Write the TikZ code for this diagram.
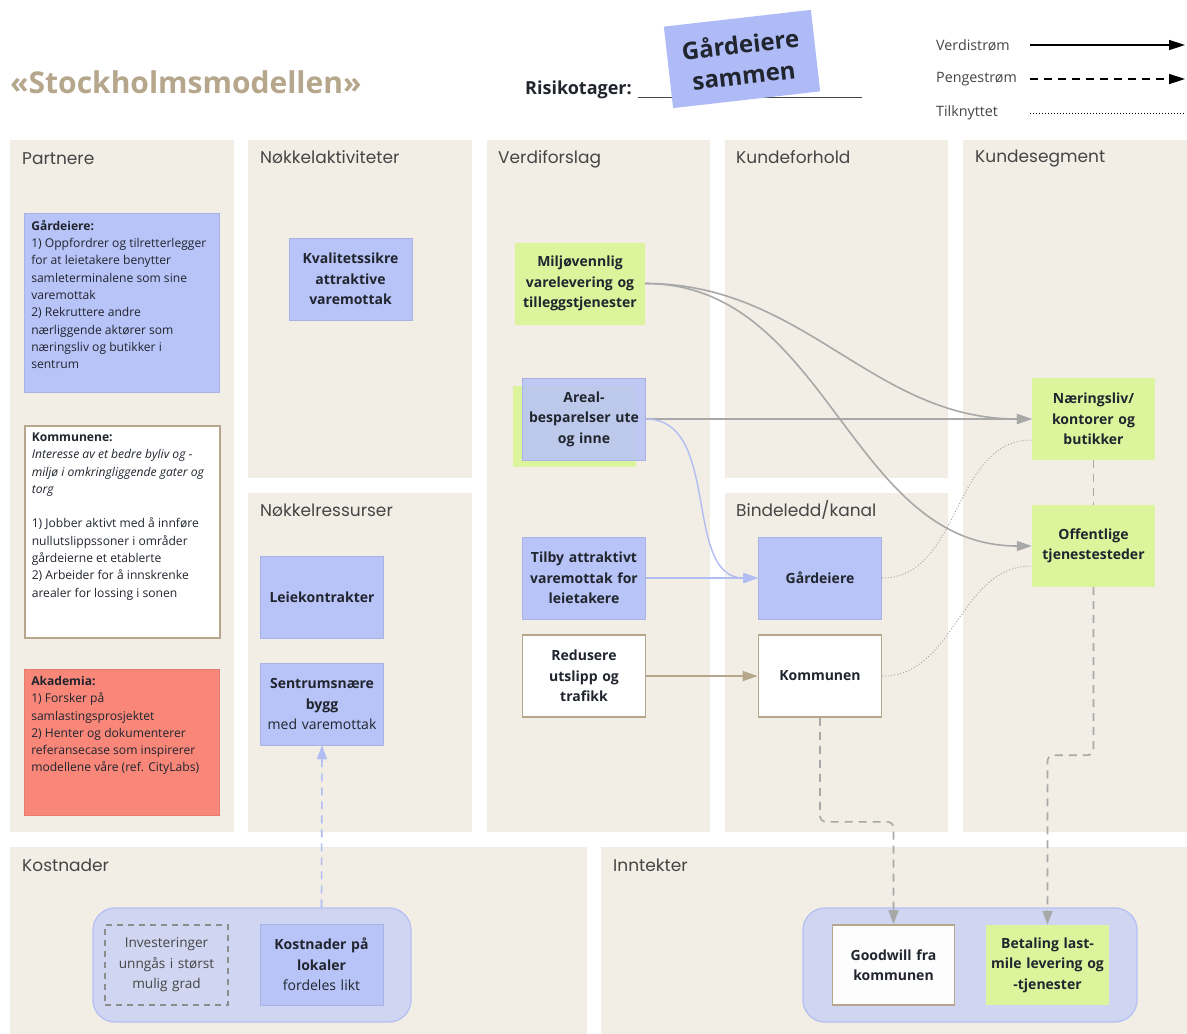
\documentclass[tikz,border=0pt]{standalone}
\usepackage{fontspec}
\setmainfont{Open Sans}
\newfontfamily\headfont{Poppins}
\usetikzlibrary{positioning,arrows.meta}

\definecolor{panelbg}{HTML}{F2EEE5}
\definecolor{boxblue}{HTML}{B8C3F7}
\definecolor{stickyblue}{HTML}{AEBBF6}
\definecolor{boxgreen}{HTML}{DCF59C}
\definecolor{kommtan}{HTML}{B5A68C}
\definecolor{akared}{HTML}{F8877A}
\definecolor{ink}{HTML}{20252E}
\definecolor{headgray}{HTML}{454545}
\definecolor{arrowgray}{HTML}{A8A8A8}
\definecolor{arrowblue}{HTML}{B2BDF4}
\definecolor{groupblue}{HTML}{D0D6F1}
\definecolor{groupedge}{HTML}{B5C0F3}
\definecolor{dashgray}{HTML}{8C8C8C}

\newcommand{\partnertext}[2]{\parbox[c][#1][t]{181pt}{\raggedright\fontsize{12.1}{17.3}\selectfont #2}}

\tikzstyle{panel} = [rectangle, fill=panelbg, anchor=north west, inner sep=0pt]
\tikzstyle{heading} = [anchor=west, inner sep=0pt, text=headgray, font=\headfont\fontsize{17}{20}\selectfont]
\tikzstyle{card} = [rectangle, minimum width=123pt, minimum height=82pt, text width=120pt, align=center, inner sep=1pt, text=ink, font=\fontsize{14}{20.5}\selectfont\bfseries]
\tikzstyle{bluebox} = [card, fill=boxblue, draw=boxblue!92!black, line width=0.5pt]
\tikzstyle{greenbox} = [card, fill=boxgreen]
\tikzstyle{whitebox} = [card, fill=white, draw=kommtan, line width=1.6pt]
\tikzstyle{partnerbox} = [rectangle, anchor=north west, inner sep=7pt, text=ink]
\tikzstyle{groupbox} = [rectangle, rounded corners=22pt, fill=groupblue, draw=groupedge, line width=1.3pt, minimum width=318pt, minimum height=114pt]
\tikzstyle{legendtext} = [anchor=west, inner sep=0pt, text=headgray, font=\fontsize{14.3}{16}\selectfont]
\tikzstyle{valarrow} = [draw=arrowgray, line width=1.6pt, -{Triangle[length=15pt,width=10pt]}]
\tikzstyle{bluearrow} = [draw=arrowblue, line width=1.4pt, -{Triangle[length=15pt,width=10pt]}]
\tikzstyle{tanarrow} = [draw=kommtan, line width=1.6pt, -{Triangle[length=15pt,width=10pt]}]
\tikzstyle{moneyline} = [draw=arrowgray, line width=1.6pt, dash pattern=on 8pt off 6pt]
\tikzstyle{moneyarrow} = [moneyline, rounded corners=6pt, -{Triangle[length=14pt,width=10pt]}]
\tikzstyle{linkline} = [draw=arrowgray, line width=1pt, dash pattern=on 1pt off 2pt]

\begin{document}
\begin{tikzpicture}[x=1pt, y=-1pt]
	\useasboundingbox [fill=white] (0,0) rectangle (1187,1034);

	\node (partner) [panel, minimum width=224pt, minimum height=692pt] at (10,140) {};
	\node (activity) [panel, minimum width=224pt, minimum height=338pt] at (248,140) {};
	\node (resource) [panel, minimum width=224pt, minimum height=339pt] at (248,493) {};
	\node (value) [panel, minimum width=223pt, minimum height=692pt] at (487,140) {};
	\node (relation) [panel, minimum width=223pt, minimum height=338pt] at (725,140) {};
	\node (channel) [panel, minimum width=223pt, minimum height=339pt] at (725,493) {};
	\node (segment) [panel, minimum width=224pt, minimum height=692pt] at (963,140) {};
	\node (cost) [panel, minimum width=577pt, minimum height=187pt] at (10,847) {};
	\node (income) [panel, minimum width=586pt, minimum height=187pt] at (601,847) {};

	\node (partnerhd) [heading] at ([shift={(12pt,-19pt)}]partner.north west) {Partnere};
	\node (activityhd) [heading] at ([shift={(12pt,-17pt)}]activity.north west) {Nøkkelaktiviteter};
	\node (resourcehd) [heading] at ([shift={(12pt,-17pt)}]resource.north west) {Nøkkelressurser};
	\node (valuehd) [heading] at ([shift={(11pt,-19pt)}]value.north west) {Verdiforslag};
	\node (relationhd) [heading] at ([shift={(11pt,-17pt)}]relation.north west) {Kundeforhold};
	\node (channelhd) [heading] at ([shift={(11pt,-17pt)}]channel.north west) {Bindeledd/kanal};
	\node (segmenthd) [heading] at ([shift={(12pt,-19pt)}]segment.north west) {Kundesegment};
	\node (costhd) [heading] at ([shift={(12pt,-18pt)}]cost.north west) {Kostnader};
	\node (incomehd) [heading] at ([shift={(12pt,-18pt)}]income.north west) {Inntekter};

	% header
	\node (title) [anchor=west, inner sep=0pt, text=kommtan, font=\fontsize{30}{34}\selectfont\bfseries] at (10,82) {«Stockholmsmodellen»};
	\node (risk) [anchor=west, inner sep=0pt, text=ink, font=\fontsize{18}{20}\selectfont\bfseries] at (525,90) {Risikotager:};
	\coordinate (riskline1) at (638,97);
	\coordinate (riskline2) at (862,97);
	\draw [headgray, line width=1pt] (riskline1) -- (riskline2);
	\node (owner) [rectangle, fill=stickyblue, rotate=6.5, minimum width=148pt, minimum height=82pt, align=center, text=ink, font=\fontsize{24}{31}\selectfont\bfseries] at (742,59) {Gårdeiere\\sammen};

	\node (lgval) [legendtext] at (936,45) {Verdistrøm};
	\node (lgmoney) [legendtext] at (936,79) {Pengestrøm};
	\node (lglink) [legendtext] at (936,113) {Tilknyttet};
	\coordinate (lgval1) at (1030,45);
	\coordinate (lgval2) at (1185,45);
	\coordinate (lgmoney1) at (1030,79);
	\coordinate (lgmoney2) at (1185,79);
	\coordinate (lglink1) at (1030,113);
	\coordinate (lglink2) at (1185,113);
	\draw [black, line width=1.5pt, -{Triangle[length=16pt,width=10pt]}] (lgval1) -- (lgval2);
	\draw [black, line width=1.5pt, dash pattern=on 8pt off 6pt, -{Triangle[length=16pt,width=10pt]}] (lgmoney1) -- (lgmoney2);
	\draw [black, line width=1pt, dash pattern=on 1pt off 2pt] (lglink1) -- (lglink2);

	% partnere
	\node (pgard) [partnerbox, fill=boxblue, draw=boxblue!92!black, line width=0.5pt] at (24,213) {\partnertext{165pt}{\textbf{Gårdeiere:}\\1) Oppfordrer og tilretterlegger\\for at leietakere benytter\\samleterminalene som sine\\varemottak\\2) Rekruttere andre\\nærliggende aktører som\\næringsliv og butikker i\\sentrum}};
	\node (pkomm) [partnerbox, fill=white, draw=kommtan, line width=1.6pt] at (24,425) {\partnertext{198pt}{\textbf{Kommunene:}\\\textit{Interesse av et bedre byliv og -}\\\textit{miljø i omkringliggende gater og}\\\textit{torg}\\\strut\\1) Jobber aktivt med å innføre\\nullutslippssoner i områder\\gårdeierne et etablerte\\2) Arbeider for å innskrenke\\arealer for lossing i sonen}};
	\node (pakad) [partnerbox, fill=akared, draw=akared!92!black, line width=0.5pt] at (24,669) {\partnertext{132pt}{\textbf{Akademia:}\\1) Forsker på\\samlastingsprosjektet\\2) Henter og dokumenterer\\referansecase som inspirerer\\modellene våre (ref. CityLabs)}};

	% aktiviteter og ressurser
	\node (kval) [bluebox] at (350.5,279) {Kvalitetssikre\\attraktive\\varemottak};
	\node (lease) [bluebox] at (322,597.5) {Leiekontrakter};
	\node (sentr) [bluebox, below=24pt of lease] {Sentrumsnære\\bygg\\{\mdseries med varemottak}};

	% verdiforslag
	\node (milj) [greenbox, minimum width=130pt] at (580,283.5) {Miljøvennlig\\varelevering og\\tilleggstjenester};
	\node (arealshadow) [greenbox, minimum width=123pt, minimum height=81pt] at (574.5,426.5) {};
	\node (areal) [bluebox, fill opacity=0.88, text opacity=1] at (584,419) {Areal-\\besparelser ute\\og inne};
	\node (tilby) [bluebox] at (584,578) {Tilby attraktivt\\varemottak for\\leietakere};
	\node (redus) [whitebox, below=15pt of tilby] {Redusere\\utslipp og\\trafikk};

	% bindeledd og kundesegment
	\node (gard) [bluebox] at (820,578) {Gårdeiere};
	\node (kom) [whitebox, below=15pt of gard] {Kommunen};
	\node (naer) [greenbox] at (1093.5,419) {Næringsliv/\\kontorer og\\butikker};
	\node (off) [greenbox] at (1093.5,546) {Offentlige\\tjenestesteder};

	% kostnader og inntekter
	\node (kostgroup) [groupbox] at (252,965) {};
	\node (inv) [card, draw=dashgray, line width=1.5pt, dash pattern=on 6pt off 5pt, minimum height=80pt, font=\fontsize{13.6}{20.5}\selectfont, text=headgray] at (166.5,965) {Investeringer\\unngås i størst\\mulig grad};
	\node (kost) [bluebox, minimum height=81pt] at (321.5,964.5) {Kostnader på\\lokaler\\{\mdseries fordeles likt}};
	\node (inntgroup) [groupbox, minimum width=334pt] at (970,965) {};
	\node (good) [whitebox, fill=white!96!groupblue, minimum width=121pt, minimum height=80pt] at (893.5,965) {Goodwill fra\\kommunen};
	\node (bet) [greenbox, minimum height=80pt] at (1047.5,965) {Betaling last-\\mile levering og\\-tjenester};

	% strømmer
	\draw [valarrow] (milj.east) to[out=0, in=180] (naer.west);
	\draw [valarrow] (milj.east) to[out=0, in=180] (off.west);
	\draw [valarrow] (areal.east) -- (naer.west);
	\draw [bluearrow] (areal.east) to[out=0, in=180] (gard.west);
	\draw [bluearrow] (tilby) -- (gard);
	\draw [tanarrow] (redus) -- (kom);
	\draw [linkline] (gard.east) to[out=0, in=180] ([yshift=-21pt]naer.west);
	\draw [linkline] (kom.east) to[out=0, in=180] ([yshift=-20pt]off.west);
	\draw [moneyline] (naer) -- (off);
	\draw [moneyarrow] (off.south) -- ++(0,168) -| (bet.north);
	\draw [moneyarrow] (kom.south) -- ++(0,104) -| (good.north);
	\draw [moneyline, draw=arrowblue, -{Triangle[length=14pt,width=10pt]}] (kost.north |- kostgroup.north) -- (sentr.south);
\end{tikzpicture}
\end{document}
